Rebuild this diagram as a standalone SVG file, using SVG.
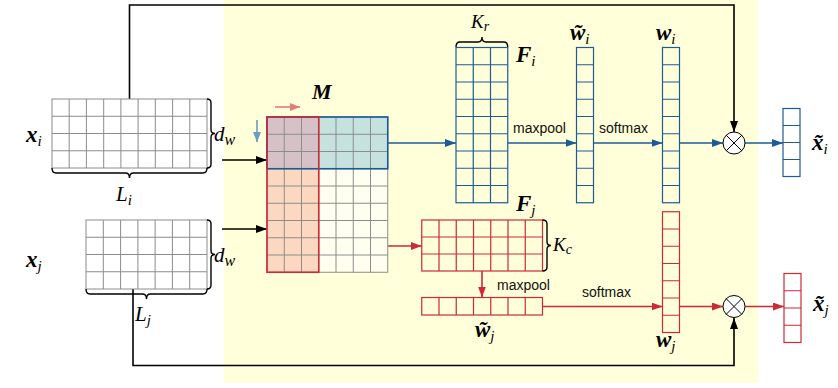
<svg xmlns="http://www.w3.org/2000/svg" width="838" height="388" viewBox="0 0 838 388">
<defs>
<style>
.bg{fill:#ffffda}
.gg{fill:none;stroke:#8c8c8c;stroke-width:1}
.go{fill:#fff;stroke:#8c8c8c;stroke-width:1}
.bl{fill:none;stroke:#1d5b97;stroke-width:1.2}
.rd{fill:none;stroke:#cc2a36;stroke-width:1.2}
.blo{fill:none;stroke:#1d5b97;stroke-width:1.6}
.rdo{fill:none;stroke:#cc2a36;stroke-width:1.6}
.brace{fill:none;stroke:#000;stroke-width:1.4}
.k{fill:none;stroke:#000;stroke-width:1.6}
.kb{fill:none;stroke:#1d5b97;stroke-width:1.6}
.kr{fill:none;stroke:#cc2a36;stroke-width:1.6}
.m{font-family:"Liberation Serif","Times New Roman",serif;font-style:italic;fill:#000}
.mb{font-family:"Liberation Serif","Times New Roman",serif;font-style:italic;font-weight:bold;fill:#000}
.sub{font-weight:normal;font-style:italic}
.s{font-family:"Liberation Sans",Arial,sans-serif;font-size:14px;fill:#111}
</style>
<marker id="ak" markerUnits="userSpaceOnUse" markerWidth="12" markerHeight="10" refX="11" refY="4" orient="auto"><path d="M0,0 L11,4 L0,8 z" fill="#000"/></marker>
<marker id="ab" markerUnits="userSpaceOnUse" markerWidth="12" markerHeight="10" refX="11" refY="4" orient="auto"><path d="M0,0 L11,4 L0,8 z" fill="#1d5b97"/></marker>
<marker id="ar" markerUnits="userSpaceOnUse" markerWidth="12" markerHeight="10" refX="11" refY="4" orient="auto"><path d="M0,0 L11,4 L0,8 z" fill="#cc2a36"/></marker>
<marker id="alr" markerUnits="userSpaceOnUse" markerWidth="12" markerHeight="10" refX="10" refY="4" orient="auto"><path d="M0,0 L10,4 L0,8 z" fill="#e07c7c"/></marker>
<marker id="alb" markerUnits="userSpaceOnUse" markerWidth="12" markerHeight="10" refX="10" refY="4" orient="auto"><path d="M0,0 L10,4 L0,8 z" fill="#6b9cbc"/></marker>
</defs>

<rect class="bg" x="224" y="0" width="534" height="383"/>

<g id="connectors">
<path class="k" d="M129.5,99 L129.5,5 L734,5 L734,132" marker-end="url(#ak)"/>
<path class="k" d="M133,289 L133,365.5 L734,365.5 L734,318" marker-end="url(#ak)"/>
<path class="k" d="M222,160 L267,160" marker-end="url(#ak)"/>
<path class="k" d="M222,229 L267,229" marker-end="url(#ak)"/>
<path class="kb" d="M387.75,143 L456,143" marker-end="url(#ab)"/>
<path class="kb" d="M507.75,143 L576.5,143" marker-end="url(#ab)"/>
<path class="kb" d="M593.5,143 L662.5,143" marker-end="url(#ab)"/>
<path class="kb" d="M679.5,143 L723,143" marker-end="url(#ab)"/>
<path class="kb" d="M745,143 L783,143" marker-end="url(#ab)"/>
<path class="kr" d="M387.75,246 L421.75,246" marker-end="url(#ar)"/>
<path class="kr" d="M482,271 L482,297.5" marker-end="url(#ar)"/>
<path class="kr" d="M542.5,306.5 L662.5,306.5" marker-end="url(#ar)"/>
<path class="kr" d="M679.5,306.5 L723,306.5" marker-end="url(#ar)"/>
<path class="kr" d="M745,306.5 L784,306.5" marker-end="url(#ar)"/>
<text class="s" x="513" y="133">maxpool</text>
<text class="s" x="599" y="133">softmax</text>
<text class="s" x="497" y="290">maxpool</text>
<text class="s" x="582" y="297">softmax</text>
</g>

<g id="xi">
<rect class="go" x="52" y="99" width="155" height="69"/>
<path class="gg" d="M69.2,99V168M86.4,99V168M103.7,99V168M120.9,99V168M138.1,99V168M155.3,99V168M172.6,99V168M189.8,99V168M52,116.25H207M52,133.5H207M52,150.75H207"/>
<path class="brace" d="M207,99 Q211,99 211,103 L211,129.5 Q211,133.5 215,133.5 Q211,133.5 211,137.5 L211,164 Q211,168 207,168"/>
<path class="brace" d="M52,168 Q52,173 56,173 L125.5,173 Q129.5,173 129.5,178 Q129.5,173 133.5,173 L203,173 Q207,173 207,168"/>
<text class="mb" x="26" y="142" font-size="23">x<tspan class="sub" font-size="15" dy="4">i</tspan></text>
<text class="m" x="214" y="141" font-size="21">d<tspan font-size="16" dy="4">w</tspan></text>
<text class="m" x="116" y="201" font-size="21">L<tspan font-size="15" dy="4">i</tspan></text>
</g>

<g id="xj">
<rect class="go" x="86" y="220" width="121" height="69"/>
<path class="gg" d="M103.3,220V289M120.6,220V289M137.9,220V289M155.1,220V289M172.4,220V289M189.7,220V289M86,237.25H207M86,254.5H207M86,271.75H207"/>
<path class="brace" d="M207,220 Q211,220 211,224 L211,250.5 Q211,254.5 215,254.5 Q211,254.5 211,258.5 L211,285 Q211,289 207,289"/>
<path class="brace" d="M86,289 Q86,294 90,294 L142.5,294 Q146.5,294 146.5,299 Q146.5,294 150.5,294 L203,294 Q207,294 207,289"/>
<text class="mb" x="26" y="267" font-size="23">x<tspan class="sub" font-size="15" dy="4">j</tspan></text>
<text class="m" x="214" y="262" font-size="21">d<tspan font-size="16" dy="4">w</tspan></text>
<text class="m" x="135" y="321" font-size="21">L<tspan font-size="15" dy="4">j</tspan></text>
</g>

<g id="M">
<rect x="267" y="117" width="120.75" height="155.25" fill="#fffff0"/>
<rect x="267" y="117" width="120.75" height="51.75" fill="#c6e2de"/>
<rect x="267" y="117" width="51.75" height="155.25" fill="#fcd8c0"/>
<rect x="267" y="117" width="51.75" height="51.75" fill="#d6c2c6"/>
<path class="gg" d="M284.25,117V272.25M301.5,117V272.25M318.75,117V272.25M336,117V272.25M353.25,117V272.25M370.5,117V272.25M267,134.25H387.75M267,151.5H387.75M267,168.75H387.75M267,186H387.75M267,203.25H387.75M267,220.5H387.75M267,237.75H387.75M267,255H387.75"/>
<rect class="go" x="267" y="117" width="120.75" height="155.25" style="fill:none"/>
<rect class="blo" x="267" y="117" width="120.75" height="51.75"/>
<rect class="rdo" x="267" y="117" width="51.75" height="155.25"/>
<path d="M275,107 L300,107" stroke="#e07c7c" stroke-width="1.6" marker-end="url(#alr)"/>
<path d="M257,120 L257,142" stroke="#6b9cbc" stroke-width="1.6" marker-end="url(#alb)"/>
<text class="mb" x="312" y="99" font-size="22">M</text>
</g>

<g id="Fi">
<rect class="bl" x="456" y="47.5" width="51.75" height="155.25" fill="#fff"/>
<path class="bl" d="M473.25,47.5V202.75M490.5,47.5V202.75M456,64.75H507.75M456,82H507.75M456,99.25H507.75M456,116.5H507.75M456,133.75H507.75M456,151H507.75M456,168.25H507.75M456,185.5H507.75"/>
<path class="brace" d="M456,47 Q456,42 460,42 L478,42 Q482,42 482,37 Q482,42 486,42 L503.75,42 Q507.75,42 507.75,47"/>
<text class="m" x="471" y="28" font-size="19">K<tspan font-size="14" dy="3">r</tspan></text>
<text class="mb" x="516" y="62" font-size="23">F<tspan class="sub" font-size="15" dy="4">i</tspan></text>
</g>

<g id="wti">
<rect class="bl" x="576.5" y="47.5" width="17" height="155.25" fill="#fff"/>
<path class="bl" d="M576.5,64.75H593.5M576.5,82H593.5M576.5,99.25H593.5M576.5,116.5H593.5M576.5,133.75H593.5M576.5,151H593.5M576.5,168.25H593.5M576.5,185.5H593.5"/>
<text class="mb" x="570" y="40" font-size="23">w̃<tspan class="sub" font-size="15" dy="4">i</tspan></text>
</g>

<g id="wi">
<rect class="bl" x="662.5" y="47.5" width="17" height="155.25" fill="#fff"/>
<path class="bl" d="M662.5,64.75H679.5M662.5,82H679.5M662.5,99.25H679.5M662.5,116.5H679.5M662.5,133.75H679.5M662.5,151H679.5M662.5,168.25H679.5M662.5,185.5H679.5"/>
<text class="mb" x="656" y="40" font-size="23">w<tspan class="sub" font-size="15" dy="4">i</tspan></text>
</g>

<g id="oti">
<circle cx="734" cy="143" r="11" fill="#fff" stroke="#000" stroke-width="1"/>
<path d="M726.2,135.2L741.8,150.8M741.8,135.2L726.2,150.8" stroke="#000" stroke-width="1"/>
</g>

<g id="xti">
<rect class="bl" x="783" y="108.5" width="17" height="68" fill="#fff"/>
<path class="bl" d="M783,125.5H800M783,142.5H800M783,159.5H800"/>
<text class="mb" x="812" y="150" font-size="23">x̃<tspan class="sub" font-size="15" dy="4">i</tspan></text>
</g>

<g id="Fj">
<rect class="rd" x="421.75" y="220" width="120.75" height="51" fill="#fff"/>
<path class="rd" d="M439,220V271M456.25,220V271M473.5,220V271M490.75,220V271M508,220V271M525.25,220V271M421.75,237H542.5M421.75,254H542.5"/>
<path class="brace" d="M542.5,220 Q547,220 547,224 L547,241.5 Q547,245.5 551,245.5 Q547,245.5 547,249.5 L547,267 Q547,271 542.5,271"/>
<text class="m" x="553" y="251" font-size="19">K<tspan font-size="14" dy="3">c</tspan></text>
<text class="mb" x="516" y="211" font-size="23">F<tspan class="sub" font-size="15" dy="4">j</tspan></text>
</g>

<g id="wtj">
<rect class="rd" x="421.75" y="297.5" width="120.75" height="17.5" fill="#fff"/>
<path class="rd" d="M439,297.5V315M456.25,297.5V315M473.5,297.5V315M490.75,297.5V315M508,297.5V315M525.25,297.5V315"/>
<text class="mb" x="475" y="337" font-size="23">w̃<tspan class="sub" font-size="15" dy="4">j</tspan></text>
</g>

<g id="wj">
<rect class="rd" x="662.5" y="211.75" width="17" height="120.75" fill="#fff"/>
<path class="rd" d="M662.5,229H679.5M662.5,246.25H679.5M662.5,263.5H679.5M662.5,280.75H679.5M662.5,298H679.5M662.5,315.25H679.5"/>
<text class="mb" x="656" y="347" font-size="23">w<tspan class="sub" font-size="15" dy="4">j</tspan></text>
</g>

<g id="otj">
<circle cx="734" cy="306.5" r="11" fill="#fff" stroke="#000" stroke-width="1"/>
<path d="M726.2,298.7L741.8,314.3M741.8,298.7L726.2,314.3" stroke="#000" stroke-width="1"/>
</g>

<g id="xtj">
<rect class="rd" x="784" y="273.5" width="17" height="69" fill="#fff"/>
<path class="rd" d="M784,290.75H801M784,308H801M784,325.25H801"/>
<text class="mb" x="813" y="311" font-size="23">x̃<tspan class="sub" font-size="15" dy="4">j</tspan></text>
</g>
</svg>
